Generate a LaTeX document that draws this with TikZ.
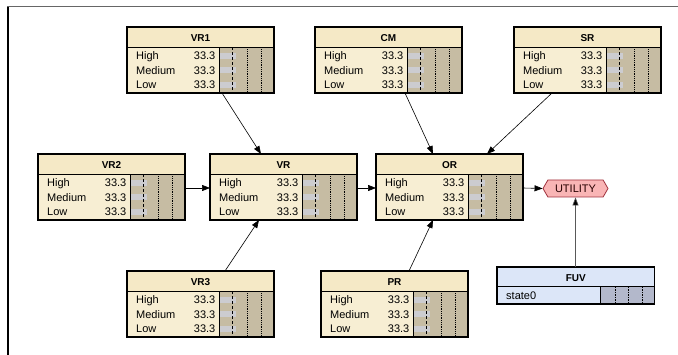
\documentclass[tikz,border=0pt]{standalone}
\usepackage{fontspec}
\setmainfont{Liberation Sans}
\usetikzlibrary{arrows.meta,calc,shapes.symbols}
\definecolor{headfill}{HTML}{F5E9C6}
\definecolor{bodyfill}{HTML}{F7EED3}
\definecolor{barfill}{HTML}{C6BCA3}
\definecolor{bargray}{HTML}{CCCCD0}
\definecolor{fuvfill}{HTML}{DCE6F8}
\definecolor{fuvbar}{HTML}{B3B8CB}
\definecolor{utilfill}{HTML}{F9B5B5}
\definecolor{utildraw}{HTML}{A0303C}
\tikzset{
  bnframe/.style={draw=black, line width=1.2pt, inner sep=0pt, outer sep=0pt, anchor=north west},
  txt/.style={inner sep=0pt, font=\fontsize{11}{13}\selectfont},
  ttl/.style={inner sep=0pt, font=\fontsize{10}{12}\selectfont\bfseries, anchor=base},
  conn/.style={line width=0.6pt, -{Triangle[length=8pt,width=6pt]}},
  gconn/.style={conn, draw=black!65, -{Triangle[length=8pt,width=6pt,fill=black]}},
}
\newcommand{\bnnode}[4]{%
\begin{scope}[shift={(#2,#3)}]
  \fill[bodyfill] (0,0) rectangle (147,66);
  \fill[headfill] (0,0) rectangle (147,20.5);
  \fill[barfill] (92,20.5) rectangle (147,66);
  \foreach \yy in {29,43.5,58} \fill[bargray] (92,\yy-3) rectangle (108.5,\yy+3);
  \draw[line width=0.7pt, dash pattern=on 3pt off 2pt] (105.5,20.5) -- (105.5,66);
  \draw[line width=0.6pt, dash pattern=on 1pt off 0.8pt] (120,20.5) -- (120,66);
  \draw[line width=0.6pt, dash pattern=on 1pt off 0.8pt] (134,20.5) -- (134,66);
  \draw[line width=0.9pt] (92,20.5) -- (92,66);
  \draw[line width=1pt] (0,20.5) -- (147,20.5);
  \node[bnframe, minimum width=147pt, minimum height=66pt] (#1) at (0,0) {};
  \node[ttl] at (73.5,15) {#4};
  \node[txt, anchor=base west] at (9,33) {High};
  \node[txt, anchor=base west] at (9,47.5) {Medium};
  \node[txt, anchor=base west] at (9,62) {Low};
  \node[txt, anchor=base east] at (88.5,33) {33.3};
  \node[txt, anchor=base east] at (88.5,47.5) {33.3};
  \node[txt, anchor=base east] at (88.5,62) {33.3};
\end{scope}}
\begin{document}
\begin{tikzpicture}[x=1pt,y=-1pt]
\useasboundingbox (0,0) rectangle (678,355);
\fill[white] (0,0) rectangle (678,355);
% frame
\draw[line width=1.8pt, black!60] (7,6.5) -- (690,6.5);
\draw[line width=1.5pt, black] (8,7.5) -- (8,360);

\bnnode{VR1}{127}{27}{VR1}
\bnnode{CM}{315}{27}{CM}
\bnnode{SR}{514}{27}{SR}
\bnnode{VR2}{38}{154}{VR2}
\bnnode{VR}{210}{154}{VR}
\bnnode{OR}{376}{154}{OR}
\bnnode{VR3}{127}{271}{VR3}
\bnnode{PR}{321}{271}{PR}

% FUV node
\begin{scope}[shift={(497,267)}]
  \fill[fuvfill] (0,0) rectangle (157.5,37);
  \fill[fuvbar] (103,20) rectangle (157.5,37);
  \draw[line width=0.6pt, dash pattern=on 1.5pt off 1pt] (118,20) -- (118,37);
  \draw[line width=0.6pt, dash pattern=on 1.5pt off 1pt] (131.5,20) -- (131.5,37);
  \draw[line width=0.6pt, dash pattern=on 1.5pt off 1pt] (145,20) -- (145,37);
  \draw[line width=0.9pt] (103,20) -- (103,37);
  \draw[line width=1pt] (0,20) -- (157.5,20);
  \node[bnframe, minimum width=157.5pt, minimum height=37pt] (FUV) at (0,0) {};
  \node[ttl] at (78.75,14.5) {FUV};
  \node[txt, anchor=base west] at (9,32.5) {state0};
\end{scope}

% UTILITY
\node[shape=signal, signal to=west and east, signal pointer angle=120,
      draw=utildraw, fill=utilfill, line width=0.8pt,
      minimum width=65pt, minimum height=17pt, inner sep=1pt,
      font=\fontsize{11}{13}\selectfont, text=black!85!red] (UTILITY) at (575.5,188.5) {UTILITY};

% connectors
\draw[conn] ($(VR1.south west)+(95,0)$) -- ($(VR.north west)+(51,0)$);
\draw[conn] ($(CM.south west)+(90,0)$) -- ($(OR.north west)+(57,0)$);
\draw[conn] ($(SR.south west)+(38,0)$) -- ($(OR.north west)+(111,0)$);
\draw[conn] ($(VR2.north east)+(0,34)$) -- ($(VR.north west)+(0,34)$);
\draw[conn] ($(VR.north east)+(0,34)$) -- ($(OR.north west)+(0,34)$);
\draw[conn] ($(OR.north east)+(0,34)$) -- (UTILITY.west);
\draw[conn] ($(VR3.north west)+(98,0)$) -- ($(VR.south west)+(49,0)$);
\draw[conn] ($(PR.north west)+(88,0)$) -- ($(OR.south west)+(57,0)$);
\draw[gconn] (FUV.north -| UTILITY.south) -- (UTILITY.south);
\end{tikzpicture}
\end{document}
